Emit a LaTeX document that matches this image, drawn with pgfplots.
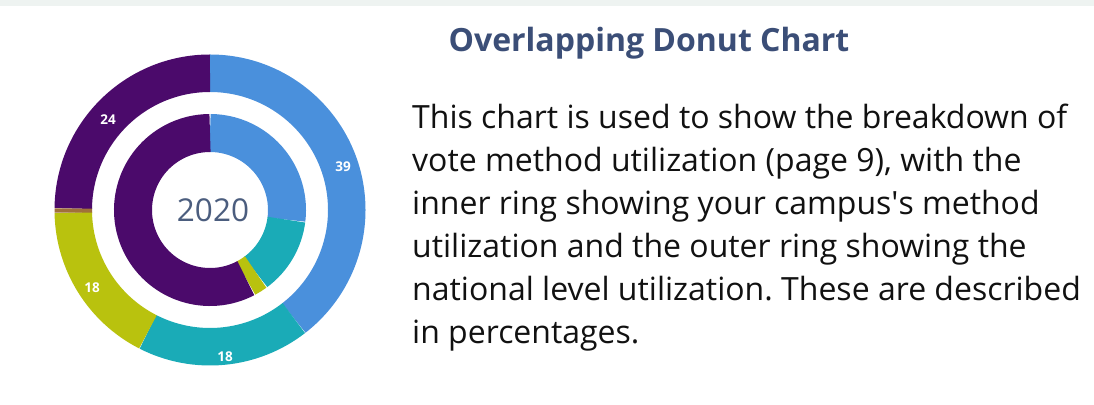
\documentclass[border=0pt]{standalone}
\usepackage{pgfplots}
\pgfplotsset{compat=1.18}
\usepackage{pgfplotstable}
\usepackage{fontspec}
\setmainfont{Open Sans}
\frenchspacing
\definecolor{cblue}{HTML}{4A90DC}
\definecolor{cteal}{HTML}{1AABB7}
\definecolor{colive}{HTML}{B9C20E}
\definecolor{cbrown}{HTML}{A0703A}
\definecolor{cpurple}{HTML}{4B0A6B}
\definecolor{ctitle}{HTML}{3B4E77}
\definecolor{cyear}{HTML}{4B5D7E}
\definecolor{cband}{HTML}{EEF3F1}
\definecolor{cbody}{HTML}{111111}

% national level (outer ring), percent, clockwise from 12 o'clock
\pgfplotstableread{
pct col
39.5 cblue
18.0 cteal
17.2 colive
0.5 cbrown
24.8 cpurple
}\outerring
% campus (inner ring)
\pgfplotstableread{
pct col
27.0 cblue
12.9 cteal
2.4 colive
57.7 cpurple
}\innerring

\newcommand\ring[4]{% #1 table, #2 row list, #3 mid radius, #4 width
  \def\cum{0}%
  \pgfplotsforeachungrouped \i in {#2}{%
    \pgfplotstablegetelem{\i}{pct}\of{#1}\let\val\pgfplotsretval
    \pgfplotstablegetelem{\i}{col}\of{#1}\let\col\pgfplotsretval
    \pgfmathsetmacro\as{90-3.6*\cum}%
    \pgfmathsetmacro\ae{90-3.6*(\cum+\val)}%
    \pgfmathsetmacro\cum{\cum+\val}%
    \edef\cmd{\noexpand\draw[\col, line width=#4pt] (axis cs:{#3*cos(\as)},{#3*sin(\as)}) arc[start angle=\as, end angle=\ae, radius=#3pt];}%
    \cmd
  }%
}

\begin{document}
\begin{tikzpicture}[x=1pt,y=1pt]
\useasboundingbox (0,0) rectangle (1094,404);
\fill[white] (0,0) rectangle (1094,404);
\fill[cband] (0,398) rectangle (1094,404);
\begin{axis}[x=1pt, y=1pt, xmin=-160, xmax=160, ymin=-160, ymax=160,
  hide axis, clip=false, anchor=south west, at={(50pt,34pt)}]
\ring{\outerring}{0,1,2,3,4}{136.75}{37.5}
\ring{\innerring}{0,1,2,3}{77}{38}
\node[text=cyear, font=\fontsize{31.5}{31.5}\selectfont] at (axis cs:3,0) {2020};
\node[text=white, font=\bfseries\fontsize{13.5}{13.5}\selectfont] at (axis cs:133,43) {39};
\node[text=white, font=\bfseries\fontsize{13.5}{13.5}\selectfont] at (axis cs:-102,90) {24};
\node[text=white, font=\bfseries\fontsize{13.5}{13.5}\selectfont] at (axis cs:-118,-78) {18};
\node[text=white, font=\bfseries\fontsize{13.5}{13.5}\selectfont] at (axis cs:15,-147) {18};
\end{axis}
\node[anchor=base, text=ctitle, font=\bfseries\fontsize{32}{32}\selectfont] at (649,352) {Overlapping Donut Chart};
\begin{scope}[every node/.style={anchor=base west, inner sep=0pt, text=cbody, font=\fontsize{32}{32}\selectfont}]
\node at (412,275) {This chart is used to show the breakdown of};
\node at (412,232) {vote method utilization (page 9), with the};
\node at (412,189) {inner ring showing your campus\textquotesingle s method};
\node at (412,146) {utilization and the outer ring showing the};
\node at (412,103) {national level utilization. These are described};
\node at (412,60) {in percentages.};
\end{scope}
\end{tikzpicture}
\end{document}
